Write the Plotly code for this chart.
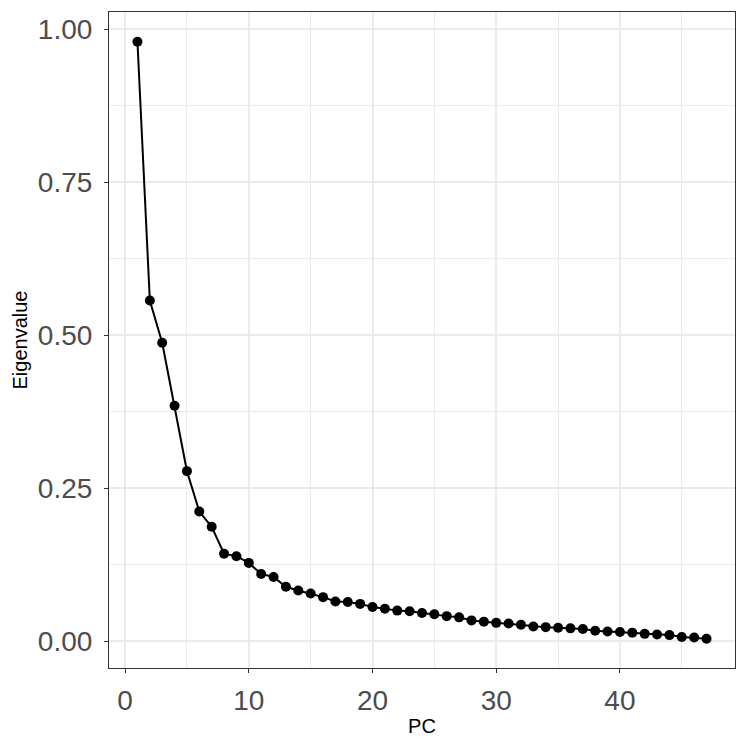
import plotly.graph_objects as go

pc = list(range(1, 48))
eigenvalue = [0.980, 0.557, 0.488, 0.385, 0.278, 0.212, 0.187, 0.143, 0.139, 0.128,
              0.110, 0.105, 0.089, 0.083, 0.078, 0.072, 0.065, 0.064, 0.061, 0.056,
              0.053, 0.050, 0.049, 0.046, 0.044, 0.041, 0.039, 0.034, 0.032, 0.030,
              0.029, 0.027, 0.024, 0.023, 0.022, 0.021, 0.020, 0.017, 0.016, 0.015,
              0.014, 0.012, 0.011, 0.010, 0.007, 0.006, 0.004]
x_ticks = [0, 10, 20, 30, 40]
y_ticks = [0.00, 0.25, 0.50, 0.75, 1.00]

FONT = "Liberation Sans, Arial, Helvetica, sans-serif"

fig = go.Figure()
fig.add_trace(go.Scatter(
    x=pc, y=eigenvalue, mode="lines+markers",
    line=dict(color="black", width=2.0),
    marker=dict(color="black", size=10),
    showlegend=False,
))

axis_common = dict(
    showline=True, mirror=True, linecolor="#333333", linewidth=1.1,
    ticks="outside", ticklen=4, tickwidth=1.1, tickcolor="#333333",
    showgrid=True, gridcolor="#EBEBEB", gridwidth=1.6,
    zeroline=False,
    tickfont=dict(family=FONT, size=28, color="#4D4D4D"),
)

fig.update_xaxes(
    **axis_common,
    range=[-1.3, 49.3],
    tickmode="array", tickvals=x_ticks, ticktext=[str(v) for v in x_ticks],
    minor=dict(dtick=5, tick0=0, showgrid=True, gridcolor="#EBEBEB", gridwidth=0.8, ticks=""),
    title=dict(text="PC", font=dict(family=FONT, size=20, color="black"), standoff=4),
    ticklabelstandoff=3,
)
fig.update_yaxes(
    **axis_common,
    range=[-0.0438, 1.0286],
    tickmode="array", tickvals=y_ticks, ticktext=[f"{v:.2f}" for v in y_ticks],
    minor=dict(dtick=0.125, tick0=0, showgrid=True, gridcolor="#EBEBEB", gridwidth=0.8, ticks=""),
    title=dict(text="Eigenvalue", font=dict(family=FONT, size=20, color="black"), standoff=4),
    ticklabelstandoff=6,
)

fig.update_layout(
    width=747, height=747,
    margin=dict(l=109, r=12, t=12, b=79, autoexpand=False),
    paper_bgcolor="white", plot_bgcolor="white",
    font=dict(family=FONT),
)

fig.write_html("out.html", config={"displayModeBar": False},
               post_script="document.body.style.margin='0';")
